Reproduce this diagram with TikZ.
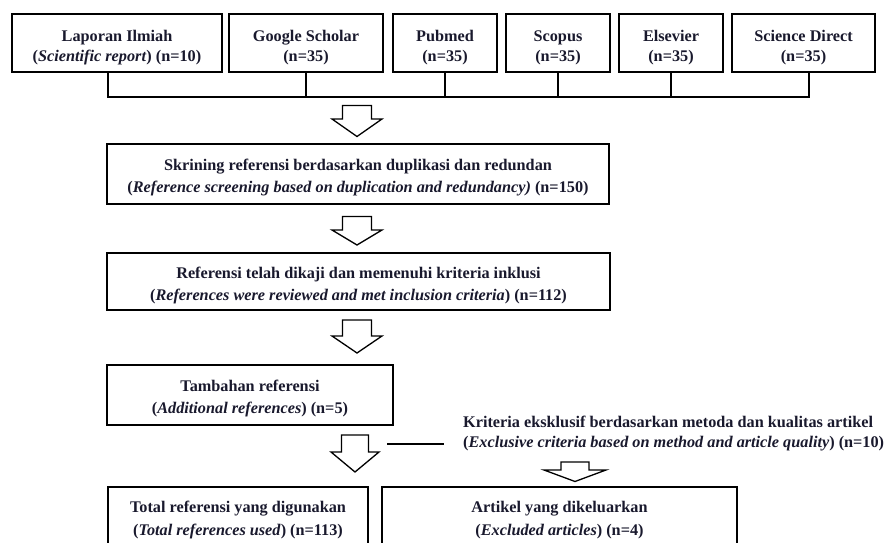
\documentclass[tikz,border=0pt]{standalone}
\usepackage{fontspec}
\setmainfont{Liberation Serif}

\definecolor{ink}{RGB}{25,25,45}

\tikzset{
  box/.style={draw, line width=1.6pt, inner sep=0pt, outer sep=0pt, align=center,
    text=ink, font=\fontsize{16.25}{22}\selectfont\bfseries,
    execute at begin node={\rule{0pt}{40.5pt}}},
  srcbox/.style={box, minimum height=58pt, font=\fontsize{16.25}{20}\selectfont\bfseries,
    execute at begin node={\rule{0pt}{40.5pt}}},
  endbox/.style={box, minimum height=59pt, font=\fontsize{16.25}{23}\selectfont\bfseries,
    execute at begin node={\rule{0pt}{35.5pt}}},
  bracket/.style={line width=2.4pt},
  arrowline/.style={draw, line width=1.3pt, fill=white},
  pics/blockarrow/.style n args={4}{code={
    \draw[arrowline] (-#1,0) -- (-#1,#3) -- (-#2,#3) -- (0,#4) -- (#2,#3) -- (#1,#3) -- (#1,0) -- cycle;
  }}
}

\begin{document}
\begin{tikzpicture}[x=1pt,y=-1pt,line join=miter]
    \useasboundingbox (0,0) rectangle (884,543);
    \clip (0,0) rectangle (884,543);

    % sources
    \node[srcbox, minimum width=210pt] (lap) at (117,43) {Laporan Ilmiah\\(\textit{Scientific report}) (n=10)};
    \node[srcbox, minimum width=154pt] (gs) at (306,43) {Google Scholar\\(n=35)};
    \node[srcbox, minimum width=104pt] (pm) at (445,43) {Pubmed\\(n=35)};
    \node[srcbox, minimum width=104pt] (sc) at (558,43) {Scopus\\(n=35)};
    \node[srcbox, minimum width=104pt] (el) at (671,43) {Elsevier\\(n=35)};
    \node[srcbox, minimum width=143pt] (sd) at (803.5,43) {Science Direct\\(n=35)};

    % bracket under the sources
    \coordinate (bus) at (0,97);
    \draw[bracket] ([xshift=-9pt]lap.south) |- ([xshift=5.5pt]sd.south |- bus) -- ([xshift=5.5pt]sd.south);
    \foreach \n in {gs,pm,sc,el}
        \draw[bracket] (\n.south) -- (\n.south |- bus);

    % steps
    \node[box, minimum width=502pt, minimum height=60pt] (scr) at (358,174)
        {Skrining referensi berdasarkan duplikasi dan redundan\\(\textit{Reference screening based on duplication and redundancy)} (n=150)};
    \node[box, minimum width=503pt, minimum height=57pt] (rev) at (358.5,281.5)
        {Referensi telah dikaji dan memenuhi kriteria inklusi\\(\textit{References were reviewed and met inclusion criteria}) (n=112)};
    \node[box, minimum width=286pt, minimum height=60pt] (add) at (250,395)
        {Tambahan referensi\\(\textit{Additional references}) (n=5)};
    \node[endbox, minimum width=260pt] (tot) at (238,516.5)
        {Total referensi yang digunakan\\(\textit{Total references used}) (n=113)};
    \node[endbox, minimum width=355pt] (exc) at (559.5,516.5)
        {Artikel yang dikeluarkan\\(\textit{Excluded articles}) (n=4)};

    % exclusion note
    \node[anchor=west, align=left, inner sep=0pt, text=ink, font=\fontsize{16.25}{20}\selectfont\bfseries] (crit) at (463,433.5)
        {Kriteria eksklusif berdasarkan metoda dan kualitas artikel\\(\textit{Exclusive criteria based on method and article quality}) (n=10)};
    \coordinate (cutA) at (387,444);
    \coordinate (cutB) at (444,444);
    \draw[line width=2.2pt] (cutA) -- (cutB);

    % block arrows
    \pic at (357,105.5) {blockarrow={14.5}{25}{13.5}{31}};
    \pic at (357,216.5) {blockarrow={14.5}{25}{13.5}{28.5}};
    \pic at (357,320) {blockarrow={14.5}{25}{16}{33}};
    \pic at (355,435) {blockarrow={13.5}{24}{17}{37}};
    \pic at (575,462) {blockarrow={14}{31}{8}{19.5}};

\end{tikzpicture}
\end{document}
